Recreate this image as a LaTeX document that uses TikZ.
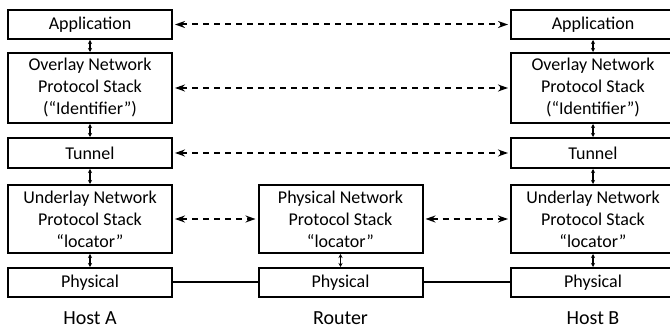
\documentclass[tikz,border=0pt]{standalone}
\usepackage{fontspec}
\setmainfont{Carlito}
\usetikzlibrary{arrows.meta, positioning}

\begin{document}
\begin{tikzpicture}[
    x=1pt, y=-1pt,
    every node/.style={font=\fontsize{18}{22}\selectfont, align=center},
    layer/.style={draw, line width=2pt, minimum width=164pt, inner sep=0pt},
    peer/.style={line width=2pt, dash pattern=on 6pt off 5pt,
                 {Stealth[length=10pt,width=7pt]}-{Stealth[length=10pt,width=7pt]},
                 shorten >=2pt, shorten <=2pt},
    wire/.style={line width=2pt},
    updown/.style={line width=1.2pt, {Stealth[length=4pt,width=4pt]}-{Stealth[length=4pt,width=4pt]}},
    hostname/.style={font=\fontsize{20}{24}\selectfont}
  ]
  \useasboundingbox (0,0) rectangle (670,328);

  % the two end hosts
  \foreach \h/\x in {A/90, B/593} {
    \node[layer, minimum height=29pt] (app\h) at (\x,24.5) {Application};
    \node[layer, minimum height=70pt] (ovl\h) at (\x,88) {Overlay Network\\Protocol Stack\\(“Identifier”)};
    \node[layer, minimum height=30pt] (tun\h) at (\x,153) {Tunnel};
    \node[layer, minimum height=68pt] (und\h) at (\x,219) {Underlay Network\\Protocol Stack\\“locator”};
    \node[layer, minimum height=29pt] (phy\h) at (\x,282.5) {Physical};
    \node[hostname] (name\h) at (\x,318) {Host \h};
    \draw[updown] (app\h) -- (ovl\h);
    \draw[updown] (ovl\h) -- (tun\h);
    \draw[updown] (tun\h) -- (und\h);
    \draw[updown] (und\h) -- (phy\h);
  }

  % the router in between
  \node[layer, minimum height=68pt] (undR) at (340.5,219) {Physical Network\\Protocol Stack\\“locator”};
  \node[layer, minimum height=29pt] (phyR) at (340.5,282.5) {Physical};
  \node[hostname] (nameR) at (340.5,318) {Router};
  \draw[updown] (undR) -- (phyR);

  % peer relations
  \draw[peer] (appA) -- (appB);
  \draw[peer] (ovlA) -- (ovlB);
  \draw[peer] (tunA) -- (tunB);
  \draw[peer] (undA) -- (undR);
  \draw[peer] (undR) -- (undB);

  % physical links
  \draw[wire] (phyA) -- (phyR);
  \draw[wire] (phyR) -- (phyB);
\end{tikzpicture}
\end{document}
